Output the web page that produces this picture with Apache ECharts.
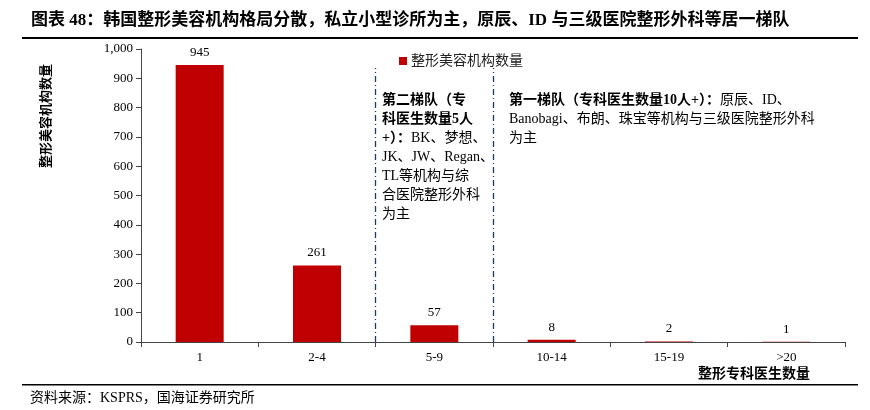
<!DOCTYPE html>
<html><head><meta charset="utf-8">
<script src="https://cdn.jsdelivr.net/npm/echarts@6/dist/echarts.min.js"></script>
<style>html,body{margin:0;padding:0;background:#fff}#c{width:870px;height:410px}</style>
</head><body><div id="c"></div>
<script>
var categories = ['1', '2-4', '5-9', '10-14', '15-19', '>20'];
var counts = [945, 261, 57, 8, 2, 1];
var yTicks = [0, 100, 200, 300, 400, 500, 600, 700, 800, 900, 1000];
var tierBoundaries = [2, 3];

var FONT = '"Liberation Serif", "Noto Sans CJK SC", serif';
var chart = echarts.init(document.getElementById('c'));
chart.setOption({
  backgroundColor: '#fff',
  animation: false,
  textStyle: { fontFamily: FONT },
  grid: { left: 141, right: 25, top: 49, bottom: 68, containLabel: false, outerBoundsMode: 'none' },
  legend: {
    left: 394, top: 49, itemWidth: 8, itemHeight: 8, icon: 'rect', itemGap: 4,
    textStyle: { fontFamily: FONT, fontSize: 14, color: '#222', padding: [0, 0, 0, -1] },
    data: ['整形美容机构数量']
  },
  xAxis: [{
    type: 'category', data: categories,
    name: '整形专科医生数量', nameLocation: 'end',
    nameGap: 0,
    nameTextStyle: { fontFamily: FONT, fontSize: 14, fontWeight: 'bold', color: '#000', align: 'right', verticalAlign: 'top', padding: [25, 35, 0, 0] },
    axisLine: { lineStyle: { color: '#444', width: 1 } },
    axisTick: { show: true, inside: false, length: 5, lineStyle: { color: '#444' } },
    axisLabel: { fontFamily: FONT, fontSize: 13, color: '#000', margin: 9 }
  }, {
    type: 'value', min: 0, max: categories.length, show: false
  }],
  yAxis: {
    type: 'value', min: 0, max: 1000, interval: 100,
    axisLine: { show: true, lineStyle: { color: '#444', width: 1 } },
    axisTick: { show: true, length: 5, lineStyle: { color: '#444' } },
    splitLine: { show: false },
    axisLabel: { fontFamily: FONT, fontSize: 13, color: '#000', margin: 8,
      formatter: function (v) { return v.toLocaleString('en-US'); } }
  },
  series: [{
    name: '整形美容机构数量', type: 'bar', data: counts, barWidth: 48,
    itemStyle: { color: '#C00000' },
    label: { show: true, position: 'top', fontFamily: FONT, fontSize: 13, color: '#000', distance: 6 }
  }, {
    name: 'tiers', type: 'line', xAxisIndex: 1, data: [], silent: true,
    markLine: {
      silent: true, symbol: 'none', label: { show: false },
      lineStyle: { color: '#1F3864', type: [6, 3, 1, 3], width: 1.3 },
      data: tierBoundaries.map(function (b) { return [{ coord: [b, 0] }, { coord: [b, 935] }]; })
    }
  }],
  graphic: [
    { type: 'text', left: 31, top: 12, style: { text: '图表 48：韩国整形美容机构格局分散，私立小型诊所为主，原辰、ID 与三级医院整形外科等居一梯队', font: 'bold 17px ' + FONT, fill: '#000' } },
    { type: 'rect', shape: { x: 22, y: 37, width: 836, height: 2 }, style: { fill: '#000' } },
    { type: 'rect', shape: { x: 22, y: 384, width: 836, height: 1.5 }, style: { fill: '#000' } },
    { type: 'text', left: 30, top: 391, style: { text: '资料来源：KSPRS，国海证券研究所', font: '14px ' + FONT, fill: '#000' } },
    { type: 'text', x: 47, y: 116, rotation: Math.PI / 2, style: { text: '整形美容机构数量', font: 'bold 13px ' + FONT, fill: '#000', align: 'center', verticalAlign: 'middle' } },
    { type: 'text', left: 382, top: 91, style: {
      text: '{b|第二梯队（专}\n{b|科医生数量5人}\n{b|+）：}BK、梦想、\nJK、JW、Regan、\nTL等机构与综\n合医院整形外科\n为主',
      font: '14px ' + FONT, fill: '#000', lineHeight: 19,
      rich: { b: { fontWeight: 'bold', fontSize: 14, fontFamily: FONT, lineHeight: 19 } } } },
    { type: 'text', left: 509, top: 91, style: {
      text: '{b|第一梯队（专科医生数量10人+）：}原辰、ID、\nBanobagi、布朗、珠宝等机构与三级医院整形外科\n为主',
      font: '14px ' + FONT, fill: '#000', lineHeight: 19,
      rich: { b: { fontWeight: 'bold', fontSize: 14, fontFamily: FONT, lineHeight: 19 } } } }
  ]
});
</script></body></html>
